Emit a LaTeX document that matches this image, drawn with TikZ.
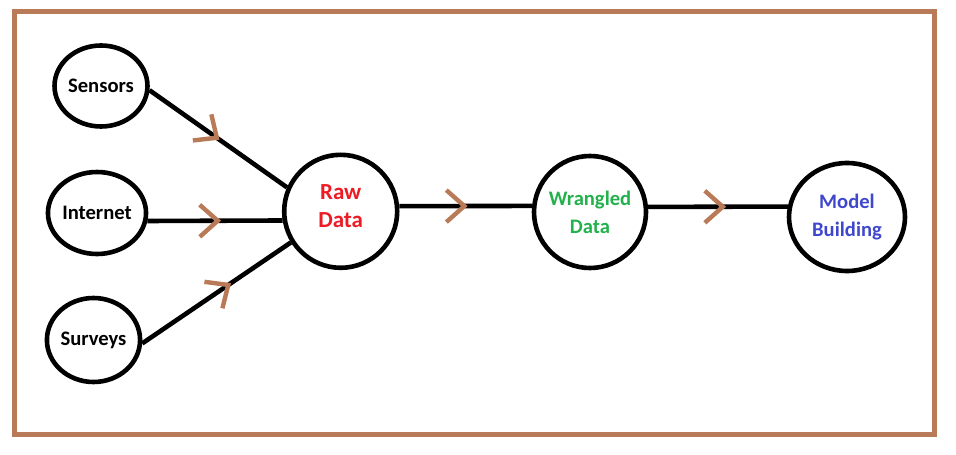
\documentclass[tikz,border=0pt]{standalone}
\usepackage{fontspec}
\setmainfont{Carlito}
\usepackage{tikz}
\usetikzlibrary{shapes.geometric, decorations.markings}

\definecolor{paintbrown}{RGB}{185,122,87}
\definecolor{paintred}{RGB}{237,28,36}
\definecolor{paintgreen}{RGB}{34,177,76}
\definecolor{paintblue}{RGB}{63,72,204}

\tikzset{
	blob/.style={ellipse, draw, line width=2.3pt, inner sep=0pt, align=center, font=\fontsize{10.3}{14}\selectfont\bfseries},
	flowline/.style={line width=2.3pt, postaction={decorate}, decoration={markings,
		mark=at position #1 with {\draw[paintbrown, line width=2.2pt] (-9pt,8pt) -- (0,0) -- (-9pt,-8pt);}}}
}

\begin{document}
\begin{tikzpicture}[x=0.5pt, y=-0.5pt]
	
	\useasboundingbox (0,0) rectangle (956,454);
	\draw [paintbrown, line width=2.5pt] (14.5,11.7) rectangle (934.3,434.3);
	
	% sources
	\node [blob, minimum width=43.5pt, minimum height=40.5pt] (sens) at (101,86) {Sensors};
	\node [blob, minimum width=43pt, minimum height=41pt] (inet) at (97,213) {Internet};
	\node [blob, minimum width=44.5pt, minimum height=42pt] (surv) at (93.5,340) {Surveys};
	
	% pipeline
	\node [blob, circle, minimum size=56.5pt, text=paintred, font=\fontsize{11.5}{14}\selectfont\bfseries] (raw) at (340.7,211.3) {Raw\\Data\\[-9pt]};
	\node [blob, circle, minimum size=56pt, text=paintgreen] (wrang) at (590,212) {Wrangled\\Data};
	\node [blob, minimum width=58pt, minimum height=54pt, text=paintblue] (model) at (847,217) {Model\\Building};
	
	\draw [flowline=0.49] (sens.-5) -- (raw.156);
	\draw [flowline=0.52] (inet.-9) -- (raw.189);
	\draw [flowline=0.58] (surv.-4) -- (raw.212);
	\draw [flowline=0.49] (raw.5) -- (wrang.174);
	\draw [flowline=0.535] (wrang.5) -- (model.170);
	
\end{tikzpicture}
\end{document}
